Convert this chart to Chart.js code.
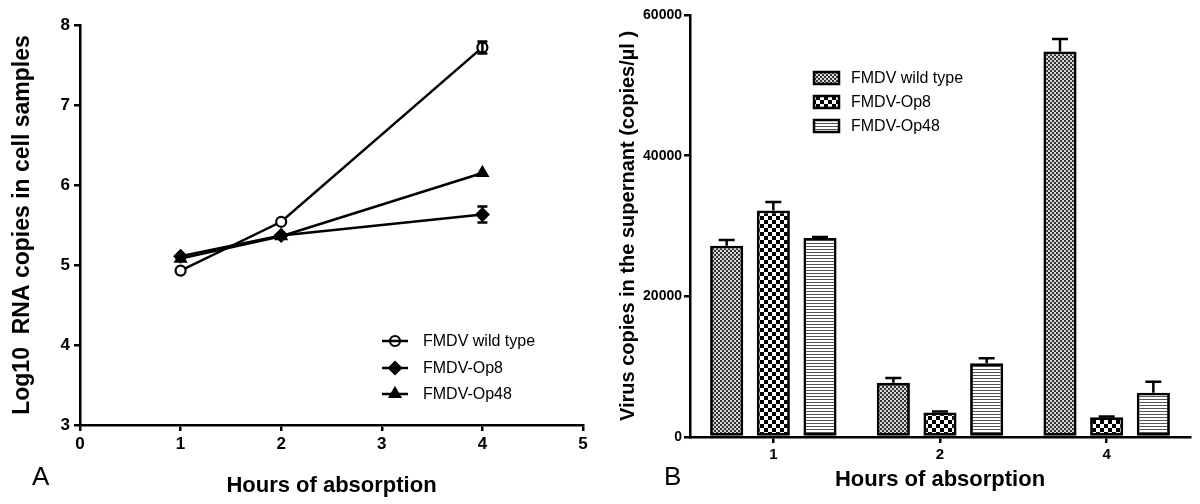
<!DOCTYPE html>
<html>
<head>
<meta charset="utf-8">
<script src="https://cdn.jsdelivr.net/npm/chart.js@4.4.1/dist/chart.umd.min.js"></script>
<style>
  html, body { margin: 0; padding: 0; background: #fff; }
  #wrap { position: relative; width: 1200px; height: 504px; }
  .panel { position: absolute; top: 0; width: 600px; height: 504px; }
  .tag { position: absolute; font: 26px 'Liberation Sans', Arial, sans-serif; color: #000; line-height: 30px; }
</style>
</head>
<body>
<div id="wrap">
  <div class="panel" style="left:0"><canvas id="rnaChart" width="600" height="504"></canvas></div>
  <div class="panel" style="left:600px"><canvas id="virusChart" width="600" height="504"></canvas></div>
  <div class="tag" style="left:32px; top:461px">A</div>
  <div class="tag" style="left:664px; top:461px">B</div>
</div>
<script>
// Panel A : log10 RNA copies in cells
const hours = [1, 2, 4]
const wildType = [4.93, 5.54, 7.72]
const wildTypeErr = [0, 0, 0.075]
const op8 = [5.11, 5.37, 5.63]
const op8Err = [0, 0, 0.1]
const op48 = [5.08, 5.36, 6.15]
const op48Err = [0, 0, 0]

// Panel B : virus copies in the supernant
const hourLabels = ['1', '2', '4']
const wtCopies = [27200, 7700, 54800]
const wtCopiesErr = [800, 700, 1800]
const op8Copies = [32200, 3500, 2800]
const op8CopiesErr = [1200, 120, 100]
const op48Copies = [28300, 10500, 6300]
const op48CopiesErr = [120, 700, 1550]

const seriesNames = ['FMDV wild type', 'FMDV-Op8', 'FMDV-Op48']

const FONT = "'Liberation Sans', Arial, sans-serif"
Chart.defaults.font.family = FONT
Chart.defaults.color = '#000'

// barres d'erreur dessinées avec les échelles du graphique
const errorBars = {
  id: 'errorBars',
  afterDatasetsDraw(chart, args, opts) {
    const ctx = chart.ctx
    const yScale = chart.scales.y
    chart.data.datasets.forEach((ds, i) => {
      if (!ds.errors) return
      const meta = chart.getDatasetMeta(i)
      meta.data.forEach((el, j) => {
        const err = ds.errors[j]
        if (!err) return
        const raw = ds.data[j]
        const val = typeof raw === 'number' ? raw : raw.y
        const top = yScale.getPixelForValue(val + err)
        const bottom = opts.bothSides ? yScale.getPixelForValue(val - err) : el.y
        const half = opts.capWidth / 2
        ctx.save()
        ctx.strokeStyle = '#000'
        ctx.lineWidth = 2.5
        ctx.beginPath()
        ctx.moveTo(el.x, bottom)
        ctx.lineTo(el.x, top)
        ctx.moveTo(el.x - half, top)
        ctx.lineTo(el.x + half, top)
        if (opts.bothSides) {
          ctx.moveTo(el.x - half, bottom)
          ctx.lineTo(el.x + half, bottom)
        }
        ctx.stroke()
        ctx.restore()
      })
    })
  },
}

// légende du graphique A (trait + marqueur)
const lineLegend = {
  id: 'lineLegend',
  afterDraw(chart) {
    const ctx = chart.ctx
    const rows = [341, 368, 394]
    chart.data.datasets.forEach((ds, i) => {
      const y = rows[i]
      ctx.save()
      ctx.strokeStyle = '#000'
      ctx.lineWidth = 2.5
      ctx.beginPath()
      ctx.moveTo(382, y)
      ctx.lineTo(408, y)
      ctx.stroke()
      ctx.fillStyle = i === 0 ? 'rgba(0,0,0,0)' : '#000'
      ctx.lineWidth = ds.pointBorderWidth
      Chart.helpers.drawPoint(ctx, {
        pointStyle: ds.pointStyle,
        radius: ds.pointRadius,
        borderWidth: ds.pointBorderWidth,
        rotation: 0,
      }, 395, y)
      ctx.fillStyle = '#000'
      ctx.font = '16px ' + FONT
      ctx.textBaseline = 'middle'
      ctx.fillText(ds.label, 423, y + 1)
      ctx.restore()
    })
  },
}

// légende du graphique B (cases à motif)
const boxLegend = {
  id: 'boxLegend',
  afterDraw(chart) {
    const ctx = chart.ctx
    const rows = [78, 102, 126]
    chart.data.datasets.forEach((ds, i) => {
      const y = rows[i]
      ctx.save()
      ctx.fillStyle = ds.backgroundColor
      ctx.fillRect(214, y - 6, 25, 12)
      ctx.strokeStyle = '#000'
      ctx.lineWidth = 2.5
      ctx.strokeRect(214, y - 6, 25, 12)
      ctx.fillStyle = '#000'
      ctx.font = '16px ' + FONT
      ctx.textBaseline = 'middle'
      ctx.fillText(ds.label, 251, y + 1)
      ctx.restore()
    })
  },
}

function axisStyle(tickSize) {
  return {
    ticks: { font: { size: tickSize, weight: 'bold' }, color: '#000' },
    grid: { drawOnChartArea: false, color: '#000', lineWidth: 2.5, tickLength: 6 },
    border: { color: '#000', width: 2.5 },
  }
}

document.addEventListener('DOMContentLoaded', function () {
  // 1. Graphique A (courbes)
  const rnaCanvas = document.getElementById('rnaChart')
  const lineSets = [
    { values: wildType, errors: wildTypeErr, style: 'circle', radius: 5, fill: '#fff' },
    { values: op8, errors: op8Err, style: 'rectRot', radius: 6, fill: '#000' },
    { values: op48, errors: op48Err, style: 'triangle', radius: 6, fill: '#000' },
  ]
  new Chart(rnaCanvas, {
    type: 'line',
    data: {
      datasets: lineSets.map((s, i) => ({
        label: seriesNames[i],
        data: hours.map((h, k) => ({ x: h, y: s.values[k] })),
        errors: s.errors,
        borderColor: '#000',
        borderWidth: 2.5,
        tension: 0,
        pointStyle: s.style,
        pointRadius: s.radius,
        pointBorderWidth: 2.2,
        pointBackgroundColor: s.fill,
        pointBorderColor: '#000',
      })),
    },
    options: {
      responsive: false,
      animation: false,
      layout: { padding: { left: 0, top: 25, right: 17, bottom: 0 } },
      scales: {
        x: {
          type: 'linear',
          min: 0,
          max: 5,
          ...axisStyle(17),
          ticks: { stepSize: 1, font: { size: 17, weight: 'bold' }, color: '#000', padding: 3 },
          title: {
            display: true,
            text: 'Hours of absorption',
            font: { size: 22, weight: 'bold' },
            color: '#000',
            padding: { top: 0, bottom: 5 },
          },
          afterFit: (scale) => { scale.height = 79 },
        },
        y: {
          min: 3,
          max: 8,
          ...axisStyle(17),
          ticks: { stepSize: 1, font: { size: 17, weight: 'bold' }, color: '#000', padding: 4 },
          title: {
            display: true,
            text: 'Log10  RNA copies in cell samples',
            font: { size: 23, weight: 'bold' },
            color: '#000',
            padding: { top: 9, bottom: 0 },
          },
          afterFit: (scale) => { scale.width = 80 },
        },
      },
      plugins: {
        legend: { display: false },
        tooltip: { enabled: false },
        errorBars: { capWidth: 10, bothSides: true },
      },
    },
    plugins: [errorBars, lineLegend],
  })

  // 2. Graphique B (barres à motifs)
  const virusCanvas = document.getElementById('virusChart')
  const vctx = virusCanvas.getContext('2d')
  function tilePattern(w, h, paint) {
    const tile = document.createElement('canvas')
    tile.width = w
    tile.height = h
    paint(tile.getContext('2d'))
    return vctx.createPattern(tile, 'repeat')
  }
  const fineChecker = tilePattern(4, 4, (g) => {
    g.fillStyle = '#d8d8d8'
    g.fillRect(0, 0, 4, 4)
    g.fillStyle = '#333'
    g.fillRect(0, 0, 2, 2)
    g.fillRect(2, 2, 2, 2)
  })
  const bigChecker = tilePattern(8, 8, (g) => {
    g.fillStyle = '#fff'
    g.fillRect(0, 0, 8, 8)
    g.fillStyle = '#000'
    g.fillRect(0, 0, 4, 4)
    g.fillRect(4, 4, 4, 4)
  })
  const stripes = tilePattern(3, 3, (g) => {
    g.fillStyle = '#fff'
    g.fillRect(0, 0, 3, 3)
    g.fillStyle = '#555'
    g.fillRect(0, 0, 3, 1)
  })

  const barSets = [
    { values: wtCopies, errors: wtCopiesErr, fill: fineChecker },
    { values: op8Copies, errors: op8CopiesErr, fill: bigChecker },
    { values: op48Copies, errors: op48CopiesErr, fill: stripes },
  ]
  new Chart(virusCanvas, {
    type: 'bar',
    data: {
      labels: hourLabels,
      datasets: barSets.map((s, i) => ({
        label: seriesNames[i],
        data: s.values,
        errors: s.errors,
        backgroundColor: s.fill,
        borderColor: '#000',
        borderWidth: 2.8,
        borderSkipped: false,
        categoryPercentage: 0.84,
        barPercentage: 0.71,
      })),
    },
    options: {
      responsive: false,
      animation: false,
      layout: { padding: { left: 0, top: 15, right: 10, bottom: 0 } },
      scales: {
        x: {
          ...axisStyle(15),
          grid: { drawOnChartArea: false, color: '#000', lineWidth: 2.5, tickLength: 6, offset: false },
          ticks: { font: { size: 15, weight: 'bold' }, color: '#000', padding: 3 },
          title: {
            display: true,
            text: 'Hours of absorption',
            font: { size: 22, weight: 'bold' },
            color: '#000',
            padding: { top: 0, bottom: 11 },
          },
          afterFit: (scale) => { scale.height = 67 },
        },
        y: {
          min: 0,
          max: 60000,
          ...axisStyle(14),
          ticks: {
            stepSize: 20000,
            font: { size: 14, weight: 'bold' },
            color: '#000',
            padding: 2,
            callback: (v) => String(v),
          },
          title: {
            display: true,
            text: 'Virus copies in the supernant (copies/µl )',
            font: { size: 20, weight: 'bold' },
            color: '#000',
            padding: { top: 16, bottom: 0 },
          },
          afterFit: (scale) => { scale.width = 90 },
        },
      },
      plugins: {
        legend: { display: false },
        tooltip: { enabled: false },
        errorBars: { capWidth: 16, bothSides: false },
      },
    },
    plugins: [errorBars, boxLegend],
  })
})
</script>
</body>
</html>
